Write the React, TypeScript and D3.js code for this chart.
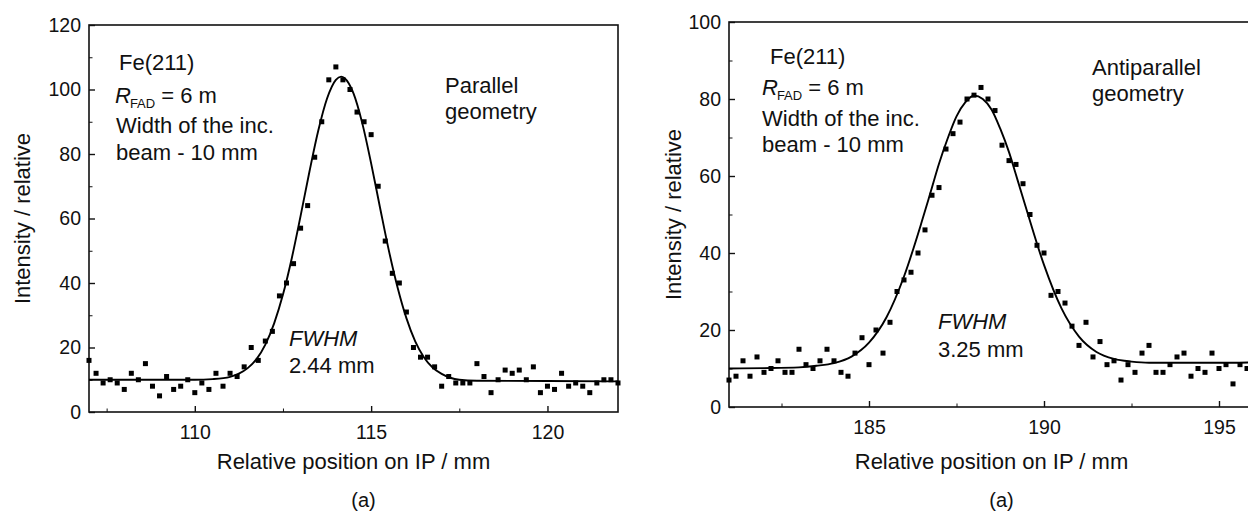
import React, { useRef, useEffect } from "react";
import * as d3 from "d3";

type Pt = [number, number];

const font = "'Liberation Sans', Arial, Helvetica, sans-serif";

// ---- left panel: parallel geometry ----
const parallelPoints: Pt[] = [
  [107.0, 16], [107.2, 12], [107.4, 9], [107.6, 10], [107.8, 9], [108.0, 7], [108.2, 12], [108.4, 10], [108.6, 15], [108.8, 8],
  [109.0, 5], [109.2, 11], [109.4, 7], [109.6, 8], [109.8, 10], [110.0, 6], [110.2, 9], [110.4, 7], [110.6, 12], [110.8, 8],
  [111.0, 12], [111.2, 11], [111.4, 14], [111.6, 20], [111.8, 16], [112.0, 22], [112.2, 25], [112.4, 36], [112.6, 40], [112.8, 46],
  [113.0, 57], [113.2, 64], [113.4, 79], [113.6, 90], [113.8, 103], [114.0, 107], [114.2, 103], [114.4, 100], [114.6, 93], [114.8, 90],
  [115.0, 86], [115.2, 70], [115.4, 53], [115.6, 43], [115.8, 40], [116.0, 31], [116.2, 20], [116.4, 17], [116.6, 17], [116.8, 14],
  [117.0, 8], [117.2, 11], [117.4, 9], [117.6, 9], [117.8, 9], [118.0, 15], [118.2, 11], [118.4, 6], [118.6, 10], [118.8, 13],
  [119.0, 12], [119.2, 13], [119.4, 10], [119.6, 14], [119.8, 6], [120.0, 8], [120.2, 7], [120.4, 12], [120.6, 8], [120.8, 9],
  [121.0, 8], [121.2, 6], [121.4, 9], [121.6, 10], [121.8, 10], [122.0, 9],
];

// fitted curve
const parallelFit: Pt[] = [
  [107, 10.0], [109, 10.0], [110, 10.0], [110.5, 10.2], [111, 10.9], [111.25, 11.9], [111.5, 13.6], [111.75, 16.4],
  [112, 20.9], [112.25, 27.5], [112.5, 36.4], [112.75, 47.7], [113, 60.8], [113.25, 74.5], [113.5, 87.2], [113.75, 97.2],
  [114, 103.0], [114.15, 104.0], [114.25, 103.5], [114.5, 98.8], [114.75, 89.5], [115, 77.1], [115.25, 63.5], [115.5, 50.2],
  [115.75, 38.6], [116, 29.1], [116.25, 21.9], [116.5, 16.9], [116.75, 13.7], [117, 11.8], [117.5, 10.0], [118, 9.7],
  [120, 9.6], [122, 9.5],
];

// ---- right panel: antiparallel geometry ----
const antiPoints: Pt[] = [
  [181.0, 7], [181.2, 8], [181.4, 12], [181.6, 8], [181.8, 13], [182.0, 9], [182.2, 10], [182.4, 12], [182.6, 9], [182.8, 9],
  [183.0, 15], [183.2, 11], [183.4, 10], [183.6, 12], [183.8, 15], [184.0, 12], [184.2, 9], [184.4, 8], [184.6, 14], [184.8, 18],
  [185.0, 11], [185.2, 20], [185.4, 14], [185.6, 22], [185.8, 30], [186.0, 33], [186.2, 35], [186.4, 40], [186.6, 46], [186.8, 55],
  [187.0, 57], [187.2, 67], [187.4, 71], [187.6, 74], [187.8, 80], [188.0, 81], [188.2, 83], [188.4, 80], [188.6, 77], [188.8, 68],
  [189.0, 64], [189.2, 63], [189.4, 58], [189.6, 50], [189.8, 42], [190.0, 40], [190.2, 29], [190.4, 30], [190.6, 27], [190.8, 21],
  [191.0, 16], [191.2, 22], [191.4, 13], [191.6, 17], [191.8, 11], [192.0, 12], [192.2, 7], [192.4, 11], [192.6, 9], [192.8, 14],
  [193.0, 16], [193.2, 9], [193.4, 9], [193.6, 11], [193.8, 13], [194.0, 14], [194.2, 8], [194.4, 10], [194.6, 9], [194.8, 14],
  [195.0, 10], [195.2, 11], [195.4, 6], [195.6, 11], [195.8, 10],
];

const antiFit: Pt[] = [
  [181, 10.0], [182, 10.1], [183, 10.3], [183.5, 10.7], [184, 11.4], [184.5, 13.1], [185, 16.7], [185.5, 23.3],
  [186, 33.9], [186.5, 47.9], [186.75, 55.5], [187, 63.2], [187.25, 69.8], [187.5, 75.5], [187.75, 79.1], [188, 80.9],
  [188.25, 80.0], [188.5, 77.3], [188.75, 72.3], [189, 66.2], [189.25, 58.8], [189.5, 51.3], [190, 36.9], [190.5, 25.6],
  [191, 18.3], [191.5, 14.3], [192, 12.5], [192.5, 11.8], [193, 11.5], [194, 11.5], [195, 11.5], [196, 11.6],
];

const sampleLines = ["Fe(211)", "Width of the inc.", "beam - 10 mm"];
const xTitle = "Relative position on IP / mm";
const yTitle = "Intensity / relative";
const subLabel = "(a)";

const leftPanel = {
  left: 89, right: 618, top: 25, bottom: 412,
  xDomain: [107, 122], yDomain: [0, 120],
  xTicks: [110, 115, 120], xMinor: [107.5, 112.5, 117.5],
  yTicks: [0, 20, 40, 60, 80, 100, 120], yMinor: [10, 30, 50, 70, 90, 110],
  points: parallelPoints, fit: parallelFit,
  textX: [119, 115, 116], textY: [70, 103, 133, 160],
  geometry: ["Parallel", "geometry"], geoX: 445, geoY: [93, 119],
  fwhm: "2.44 mm", fwhmX: 289, fwhmY: [346, 373],
  yTitleX: 30,
};

const rightPanel = {
  left: 729, right: 1254, top: 22, bottom: 407,
  xDomain: [181, 196], yDomain: [0, 100],
  xTicks: [185, 190, 195], xMinor: [182.5, 187.5, 192.5],
  yTicks: [0, 20, 40, 60, 80, 100], yMinor: [10, 30, 50, 70, 90],
  points: antiPoints, fit: antiFit,
  textX: [770, 762, 762], textY: [64, 95, 126, 152],
  geometry: ["Antiparallel", "geometry"], geoX: 1092, geoY: [75, 101],
  fwhm: "3.25 mm", fwhmX: 938, fwhmY: [329, 357],
  yTitleX: 681,
};

const ink = "#111";

function drawPanel(svg: any, p: any) {
  const x = d3.scaleLinear().domain(p.xDomain).range([p.left, p.right]);
  const y = d3.scaleLinear().domain(p.yDomain).range([p.bottom, p.top]);
  const g = svg.append("g");

  // minor ticks
  g.append("g")
    .attr("transform", `translate(0,${p.bottom})`)
    .attr("color", ink)
    .call(d3.axisBottom(x).tickValues(p.xMinor).tickSize(-3.5).tickSizeOuter(0).tickFormat(() => ""))
    .call((s: any) => s.select(".domain").remove());
  g.append("g")
    .attr("transform", `translate(${p.left},0)`)
    .attr("color", ink)
    .call(d3.axisLeft(y).tickValues(p.yMinor).tickSize(-3.5).tickSizeOuter(0).tickFormat(() => ""))
    .call((s: any) => s.select(".domain").remove());

  // major ticks + labels
  const xa = g.append("g")
    .attr("transform", `translate(0,${p.bottom})`)
    .attr("color", ink)
    .call(d3.axisBottom(x).tickValues(p.xTicks).tickSize(-6).tickSizeOuter(0).tickPadding(13).tickFormat(d3.format("d")));
  xa.select(".domain").remove();
  xa.selectAll("line").attr("stroke-width", 1.4);
  xa.selectAll("text").attr("font-size", 19.5).attr("font-family", font).attr("fill", ink);

  const ya = g.append("g")
    .attr("transform", `translate(${p.left},0)`)
    .attr("color", ink)
    .call(d3.axisLeft(y).tickValues(p.yTicks).tickSize(-6).tickSizeOuter(0).tickPadding(8).tickFormat(d3.format("d")));
  ya.select(".domain").remove();
  ya.selectAll("line").attr("stroke-width", 1.4);
  ya.selectAll("text").attr("font-size", 19.5).attr("font-family", font).attr("fill", ink);

  // frame
  g.append("rect")
    .attr("x", p.left).attr("y", p.top)
    .attr("width", p.right - p.left).attr("height", p.bottom - p.top)
    .attr("fill", "none").attr("stroke", ink).attr("stroke-width", 1.6);

  // fit curve
  const line = d3.line<Pt>().x((d) => x(d[0])).y((d) => y(d[1])).curve(d3.curveMonotoneX);
  g.append("path").datum(p.fit)
    .attr("d", line).attr("fill", "none").attr("stroke", "#000").attr("stroke-width", 1.9);

  // measured points
  const s = 5;
  g.selectAll("rect.pt").data(p.points).join("rect")
    .attr("class", "pt")
    .attr("x", (d: Pt) => x(d[0]) - s / 2).attr("y", (d: Pt) => y(d[1]) - s / 2)
    .attr("width", s).attr("height", s).attr("fill", "#000");

  // annotations
  const t = g.append("g").attr("font-family", font).attr("font-size", 22).attr("fill", ink);
  t.append("text").attr("x", p.textX[0]).attr("y", p.textY[0]).text(sampleLines[0]);
  const r = t.append("text").attr("x", p.textX[1]).attr("y", p.textY[1]);
  r.append("tspan").attr("font-style", "italic").text("R");
  r.append("tspan").attr("font-size", 13).attr("dy", 5).attr("dx", -1).text("FAD");
  r.append("tspan").attr("dy", -5).text(" = 6 m");
  t.append("text").attr("x", p.textX[2]).attr("y", p.textY[2]).text(sampleLines[1]);
  t.append("text").attr("x", p.textX[2]).attr("y", p.textY[3]).text(sampleLines[2]);

  p.geometry.forEach((w: string, i: number) => {
    t.append("text").attr("x", p.geoX).attr("y", p.geoY[i]).text(w);
  });

  t.append("text").attr("x", p.fwhmX).attr("y", p.fwhmY[0]).attr("font-style", "italic").text("FWHM");
  t.append("text").attr("x", p.fwhmX).attr("y", p.fwhmY[1]).text(p.fwhm);

  // axis titles
  const cx = (p.left + p.right) / 2;
  t.append("text").attr("x", cx).attr("y", 469).attr("text-anchor", "middle").text(xTitle);
  t.append("text").attr("x", cx + 10).attr("y", 507).attr("text-anchor", "middle").attr("font-size", 20).text(subLabel);
  t.append("text")
    .attr("transform", `translate(${p.yTitleX},${(p.top + p.bottom) / 2}) rotate(-90)`)
    .attr("text-anchor", "middle").text(yTitle);
}

const App = () => {
  const ref = useRef<SVGSVGElement>(null);

  useEffect(() => {
    const svg = d3.select(ref.current);
    svg.selectAll("*").remove();
    drawPanel(svg, leftPanel);
    drawPanel(svg, rightPanel);
  }, []);

  return (
    <svg
      ref={ref}
      width={1248}
      height={513}
      style={{ position: "absolute", left: 0, top: 0, background: "#fff" }}
    />
  );
};

export default App;
